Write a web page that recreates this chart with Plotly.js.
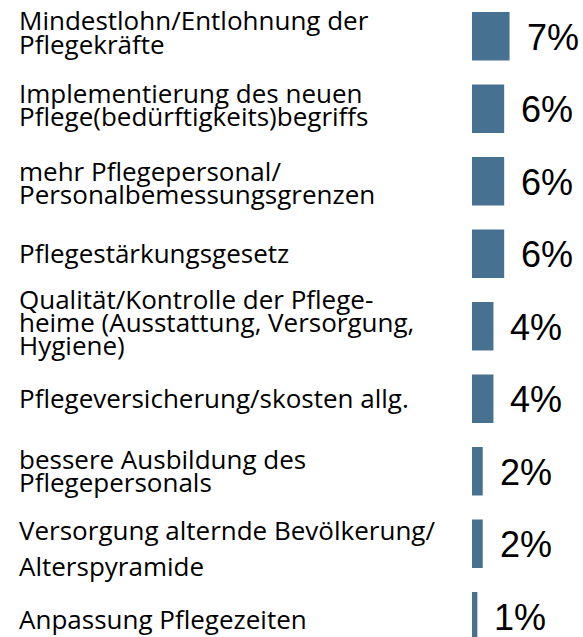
<!DOCTYPE html>
<html><head><meta charset="utf-8">
<script src="https://cdn.plot.ly/plotly-3.0.1.min.js"></script>
<style>html,body{margin:0;padding:0;background:#fff;overflow:hidden}</style>
</head><body><div id="chart" style="width:583px;height:637px"></div>
<script>
// ---- data ----
const categories = [
  "Mindestlohn/Entlohnung der<br>Pflegekräfte",
  "Implementierung des neuen<br>Pflege(bedürftigkeits)begriffs",
  "mehr Pflegepersonal/<br>Personalbemessungsgrenzen",
  "Pflegestärkungsgesetz",
  "Qualität/Kontrolle der Pflege-<br>heime (Ausstattung, Versorgung,<br>Hygiene)",
  "Pflegeversicherung/skosten allg.",
  "bessere Ausbildung des<br>Pflegepersonals",
  "Versorgung alternde Bevölkerung/<br>Alterspyramide",
  "Anpassung Pflegezeiten"
];
const values = [7, 6, 6, 6, 4, 4, 2, 2, 1];
const valueLabels = ["7%", "6%", "6%", "6%", "4%", "4%", "2%", "2%", "1%"];

// ---- layout settings ----
const W = 583, H = 637, ML = 472;
const PX_PER_CAT = 72.5;
const PX_PER_PCT = 5.364;
const lineGap = [24, 23, 23, 23, 23, 23, 22.5, 36, 23];
const blockShift = [-4, -4, 1, -1, -4, -1, -1, 4, 3];
const labelFont = {family: "'Open Sans', 'Noto Sans', sans-serif", size: 26, color: '#000'};
const pctFont = {family: "'Liberation Sans', Arial, sans-serif", size: 36, color: '#000'};

const annotations = [];
categories.forEach((c, i) => {
  const lines = c.split('<br>');
  lines.forEach((ln, j) => {
    const off = (j - (lines.length - 1) / 2) * lineGap[i] + blockShift[i];
    annotations.push({
      xref: 'paper', yref: 'y', x: (17 - ML) / (W - ML), y: c,
      xanchor: 'left', yanchor: 'middle', yshift: -off,
      text: ln, showarrow: false, font: labelFont
    });
  });
  annotations.push({
    xref: 'x', yref: 'y', x: values[i], y: c,
    xanchor: 'left', yanchor: 'middle', xshift: 15, yshift: -1,
    text: valueLabels[i], showarrow: false, font: pctFont
  });
});

const trace = {
  type: 'bar', orientation: 'h',
  x: values, y: categories,
  marker: {color: '#467190', line: {width: 0}},
  hoverinfo: 'none'
};

const layout = {
  width: W, height: H,
  margin: {l: ML, r: 0, t: 0, b: 0, pad: 0},
  paper_bgcolor: '#fff', plot_bgcolor: '#fff',
  showlegend: false,
  bargap: 0.331,
  xaxis: {range: [0, (W - ML) / PX_PER_PCT], visible: false, showgrid: false, zeroline: false, fixedrange: true},
  yaxis: {type: 'category', range: [-0.5 + H / PX_PER_CAT, -0.5], autorange: false, visible: false, showgrid: false, zeroline: false, fixedrange: true},
  annotations: annotations
};

Plotly.newPlot('chart', [trace], layout, {staticPlot: true, displayModeBar: false});
</script>
</body></html>
